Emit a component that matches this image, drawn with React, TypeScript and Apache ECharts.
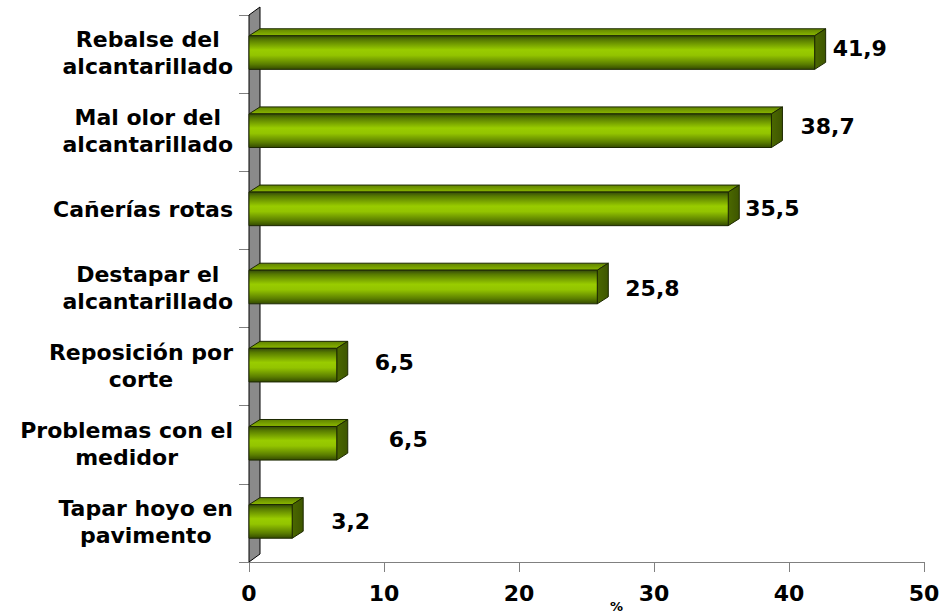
import React, { useEffect, useRef } from "react";
import * as echarts from "echarts";

const categories = [
  "Rebalse del\nalcantarillado",
  "Mal olor del\nalcantarillado",
  "Cañerías rotas",
  "Destapar el\nalcantarillado",
  "Reposición por\ncorte",
  "Problemas con el\nmedidor",
  "Tapar hoyo en\npavimento",
];
const values = [41.9, 38.7, 35.5, 25.8, 6.5, 6.5, 3.2];
const xTicks = [0, 10, 20, 30, 40, 50];
const axisName = "%";

// label nudges (style): horizontal gap from bar end, vertical shift
const labelGapX = [18, 29, 17, 28, 38, 52, 39];
const labelGapY = [-6, -6, -2, 0, -4, -5, -1];

const FONT_FAMILY = '"DejaVu Sans", "Liberation Sans", Arial, sans-serif';
const FONT = `bold 22px ${FONT_FAMILY}`;

function measureBlock(text: string): number {
  const c = document.createElement("canvas");
  const ctx = c.getContext("2d");
  if (!ctx) return 150;
  ctx.font = FONT;
  return Math.max(...text.split("\n").map((l) => ctx.measureText(l).width));
}

export default function App() {
  const ref = useRef<HTMLDivElement>(null);
  useEffect(() => {
    if (!ref.current) return;
    const chart = echarts.init(ref.current, undefined, { renderer: "svg" });
    const widths = categories.map(measureBlock);
    const DX = 11;
    const DY = -7;

    const frontGrad = () =>
      new echarts.graphic.LinearGradient(0, 0, 0, 1, [
        { offset: 0, color: "#33490a" },
        { offset: 0.12, color: "#577a00" },
        { offset: 0.42, color: "#99cc00" },
        { offset: 0.58, color: "#93c400" },
        { offset: 0.85, color: "#5a7d00" },
        { offset: 1, color: "#344a00" },
      ]);
    const topGrad = () =>
      new echarts.graphic.LinearGradient(0, 0, 0, 1, [
        { offset: 0, color: "#5f8200" },
        { offset: 1, color: "#8cb900" },
      ]);
    const sideGrad = () =>
      new echarts.graphic.LinearGradient(0, 0, 1, 0, [
        { offset: 0, color: "#4b6800" },
        { offset: 1, color: "#3e5600" },
      ]);

    chart.setOption({
      animation: false,
      grid: { left: 249, right: 27, top: 15, bottom: 52 },
      xAxis: {
        type: "value",
        min: 0,
        max: 50,
        interval: 10,
        splitLine: { show: false },
        axisLine: { show: true, lineStyle: { color: "#808080", width: 1 } },
        axisTick: { show: true, length: 10, lineStyle: { color: "#808080" } },
        axisLabel: {
          margin: 20,
          color: "#000",
          fontSize: 22,
          fontWeight: "bold",
          fontFamily: FONT_FAMILY,
          formatter: (v: number) => (xTicks.includes(v) ? String(v) : ""),
        },
      },
      yAxis: {
        type: "category",
        inverse: true,
        data: categories,
        axisLine: { show: false },
        axisTick: { show: true, length: 10, lineStyle: { color: "#808080" } },
        axisLabel: { show: false },
        splitLine: { show: false },
      },
      graphic: [
        {
          type: "text",
          left: 610,
          top: 600,
          style: {
            text: axisName,
            fill: "#000",
            font: `bold 13px ${FONT_FAMILY}`,
          },
        },
      ],
      series: [
        {
          type: "custom",
          z: 1,
          data: [[0, 0]],
          encode: { x: 0, y: 1 },
          renderItem: (params: any) => {
            const cs = params.coordSys;
            const x = cs.x;
            const y = cs.y;
            const h = cs.height;
            return {
              type: "polygon",
              shape: {
                points: [
                  [x, y + h],
                  [x, y],
                  [x + DX, y - 8],
                  [x + DX, y + h - 8],
                ],
              },
              style: { fill: "#8a8a8a", stroke: "#000", lineWidth: 1 },
            };
          },
        },
        {
          type: "custom",
          z: 3,
          data: values.map((v, i) => [v, i]),
          encode: { x: 0, y: 1 },
          renderItem: (params: any, api: any) => {
            const v = api.value(0);
            const idx = api.value(1);
            const start = api.coord([0, idx]);
            const end = api.coord([v, idx]);
            const band = api.size([0, 1])[1];
            const bh = band * 0.43;
            const cy = end[1];
            const yTop = cy - bh / 2 - 1.5;
            const yBot = yTop + bh;
            const x0 = start[0];
            const x1 = end[0];
            const stroke = "#1c2800";
            const label = v.toFixed(1).replace(".", ",");
            const bw = widths[idx];
            return {
              type: "group",
              children: [
                {
                  type: "polygon",
                  shape: {
                    points: [
                      [x0, yTop],
                      [x1, yTop],
                      [x1 + DX, yTop + DY],
                      [x0 + DX, yTop + DY],
                    ],
                  },
                  style: { fill: topGrad(), stroke, lineWidth: 1 },
                },
                {
                  type: "polygon",
                  shape: {
                    points: [
                      [x1, yTop],
                      [x1 + DX, yTop + DY],
                      [x1 + DX, yBot + DY],
                      [x1, yBot],
                    ],
                  },
                  style: { fill: sideGrad(), stroke, lineWidth: 1 },
                },
                {
                  type: "rect",
                  shape: { x: x0, y: yTop, width: x1 - x0, height: bh },
                  style: { fill: frontGrad(), stroke, lineWidth: 1 },
                },
                {
                  type: "text",
                  x: x1 + labelGapX[idx],
                  y: cy + labelGapY[idx],
                  style: {
                    text: label,
                    fill: "#000",
                    font: FONT,
                    align: "left",
                    verticalAlign: "middle",
                    textAlign: "left",
                    textVerticalAlign: "middle",
                  },
                },
                {
                  type: "text",
                  x: x0 - 16 - bw / 2,
                  y: cy - 1,
                  style: {
                    text: categories[idx],
                    fill: "#000",
                    font: FONT,
                    lineHeight: 27,
                    align: "center",
                    verticalAlign: "middle",
                    textAlign: "center",
                    textVerticalAlign: "middle",
                  },
                },
              ],
            };
          },
        },
      ],
    });
    return () => chart.dispose();
  }, []);
  return (
    <div
      ref={ref}
      style={{ position: "absolute", left: 0, top: 0, width: 951, height: 614 }}
    />
  );
}
